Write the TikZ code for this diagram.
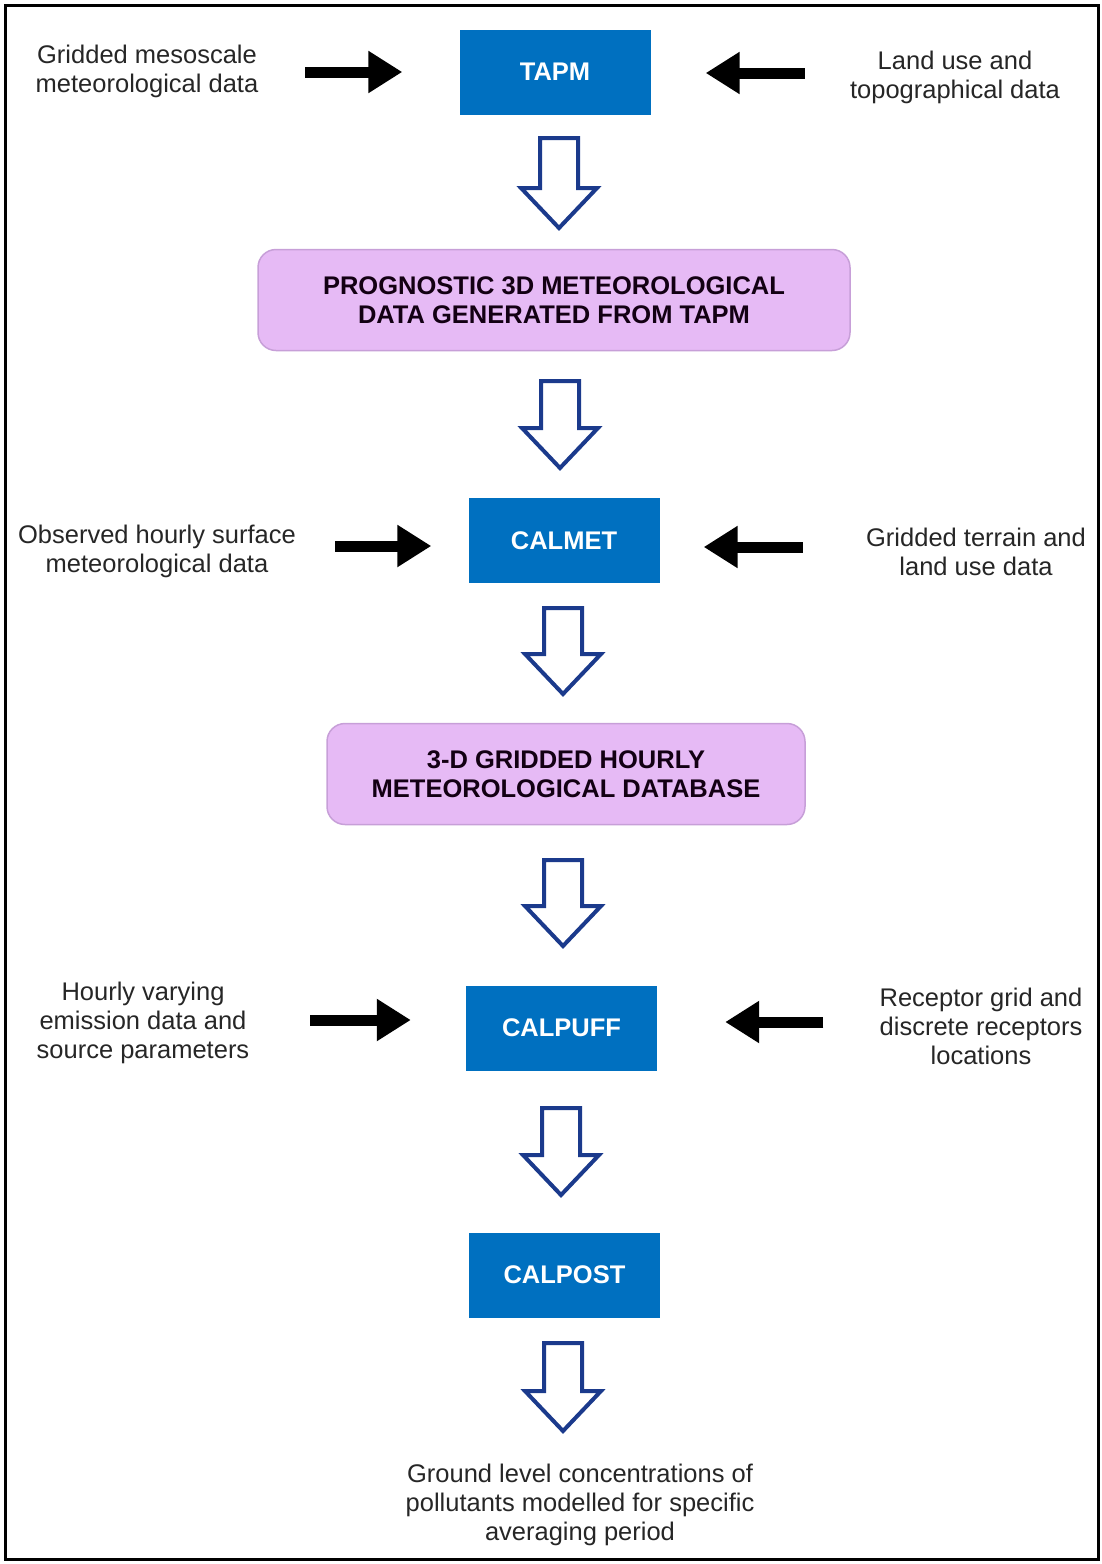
\documentclass[tikz,border=0pt]{standalone}
\usepackage{fontspec}
\setmainfont{Liberation Sans}
\usetikzlibrary{arrows.meta,calc,positioning}

\definecolor{modelblue}{HTML}{0070C0}
\definecolor{dataviolet}{HTML}{E6BAF5}
\definecolor{violetedge}{HTML}{C79FD8}
\definecolor{arrownavy}{HTML}{1B3A8C}
\definecolor{inktext}{HTML}{262626}

\tikzset{
  model/.style={fill=modelblue, text=white, font=\fontsize{25.5}{29}\selectfont\bfseries,
    minimum width=191pt, minimum height=85pt, inner sep=0pt},
  database/.style={fill=dataviolet, draw=violetedge, line width=1.5pt, rounded corners=18pt,
    text=black!85!violet, font=\fontsize{25.5}{29}\selectfont\bfseries, align=center,
    minimum height=101pt, inner sep=0pt},
  inputtxt/.style={text=inktext, font=\fontsize{25.5}{29}\selectfont, align=center, inner sep=0pt},
  feed/.style={line width=11pt, -{Triangle[length=34pt,width=40pt]}},
  flowarrow/.style={draw=arrownavy, line width=4pt, line join=miter, fill=white}
}

% hollow block arrow from top coordinate #1 down to tip coordinate #2
\newcommand{\flowdown}[2]{%
  \draw[flowarrow] ($(#1)+(-19,0)$) -- ($(#1)+(19,0)$) -- ($(#2)+(19,-40)$)
    -- ($(#2)+(38,-40)$) -- (#2) -- ($(#2)+(-38,-40)$) -- ($(#2)+(-19,-40)$) -- cycle;
}

\begin{document}
\begin{tikzpicture}[x=1pt,y=-1pt]
  \useasboundingbox (0,0) rectangle (1101,1564);
  \draw[line width=3pt] (5,5) rectangle (1098,1559);

  % main chain
  \node[model] (TAPM) at (555,72) {TAPM};
  \node[database, minimum width=592pt] (PROG) at (554,300)
    {PROGNOSTIC 3D METEOROLOGICAL\\DATA GENERATED FROM TAPM};
  \node[model] (CALMET) at (564,540.5) {CALMET};
  \node[database, minimum width=478pt] (GRID) at (566,774)
    {3-D GRIDDED HOURLY\\METEOROLOGICAL DATABASE};
  \node[model] (CALPUFF) at (561.5,1028) {CALPUFF};
  \node[model] (CALPOST) at (564.5,1275) {CALPOST};
  \node[inputtxt] (GLC) at (580,1505)
    {Ground level concentrations of\\pollutants modelled for specific\\averaging period};

  % inputs
  \node[inputtxt] (MESO) at (147,71) {Gridded mesoscale\\meteorological data};
  \node[inputtxt] (LANDUSE) at (955,77) {Land use and\\topographical data};
  \node[inputtxt] (OBS) at (157,551) {Observed hourly surface\\meteorological data};
  \node[inputtxt] (TERRAIN) at (976,552) {Gridded terrain and\\land use data};
  \node[inputtxt] (EMIS) at (143,1023) {Hourly varying\\emission data and\\source parameters};
  \node[inputtxt] (RECEP) at (981,1026) {Receptor grid and\\discrete receptors\\locations};

  \draw[feed, shorten <=47pt, shorten >=57pt] ([yshift=-1]MESO.east) -- ([yshift=-1]MESO.east -| TAPM.west);
  \draw[feed, shorten <=45pt, shorten >=55pt] ([yshift=4]LANDUSE.west) -- ([yshift=4]LANDUSE.west -| TAPM.east);
  \draw[feed, shorten <=39pt, shorten >=37pt] ([yshift=5]OBS.east) -- ([yshift=5]OBS.east -| CALMET.west);
  \draw[feed, shorten <=63pt, shorten >=44pt] ([yshift=5]TERRAIN.west) -- ([yshift=5]TERRAIN.west -| CALMET.east);
  \draw[feed, shorten <=61pt, shorten >=55pt] ([yshift=3]EMIS.east) -- ([yshift=3]EMIS.east -| CALPUFF.west);
  \draw[feed, shorten <=56pt, shorten >=68pt] ([yshift=4]RECEP.west) -- ([yshift=4]RECEP.west -| CALPUFF.east);

  % flow arrows
  \coordinate (a1t) at (559,138);  \coordinate (a1b) at (559,228);
  \coordinate (a2t) at (560,381);  \coordinate (a2b) at (560,468);
  \coordinate (a3t) at (563,608);  \coordinate (a3b) at (563,694);
  \coordinate (a4t) at (563,860);  \coordinate (a4b) at (563,946);
  \coordinate (a5t) at (561,1108); \coordinate (a5b) at (561,1195);
  \coordinate (a6t) at (563,1343); \coordinate (a6b) at (563,1431);
  \foreach \i in {1,...,6}{\flowdown{a\i t}{a\i b}}
\end{tikzpicture}
\end{document}
